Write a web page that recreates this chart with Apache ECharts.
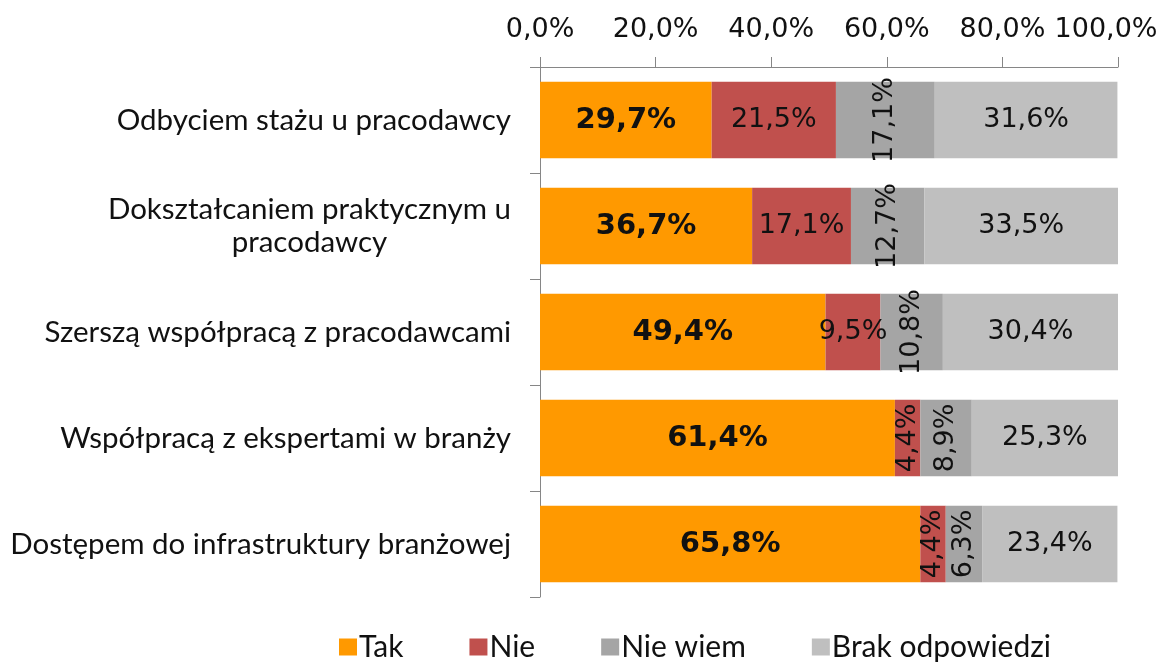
<!DOCTYPE html>
<html lang="pl">
<head>
<meta charset="UTF-8">
<title>Wykres</title>
<script src="https://cdn.jsdelivr.net/npm/echarts@6/dist/echarts.min.js"></script>
<style>
  html, body { margin: 0; padding: 0; background: #fff; }
  #main { width: 1171px; height: 666px; }
</style>
</head>
<body>
<div id="main"></div>
<script>
var categories = [
  'Odbyciem stażu u pracodawcy',
  'Dokształcaniem praktycznym u\npracodawcy',
  'Szerszą współpracą z pracodawcami',
  'Współpracą z ekspertami w branży',
  'Dostępem do infrastruktury branżowej'
];
var seriesNames = ['Tak', 'Nie', 'Nie wiem', 'Brak odpowiedzi'];
var tak = [29.7, 36.7, 49.4, 61.4, 65.8];
var nie = [21.5, 17.1, 9.5, 4.4, 4.4];
var nieWiem = [17.1, 12.7, 10.8, 8.9, 6.3];
var brak = [31.6, 33.5, 30.4, 25.3, 23.4];
// which Nie labels are drawn vertically (too narrow for horizontal text)
var nieRotated = [false, false, false, true, true];

var colors = ['#FF9900', '#C0504D', '#A5A5A5', '#BFBFBF'];

function pct(v) {
  return v.toFixed(1).replace('.', ',') + '%';
}

var chart = echarts.init(document.getElementById('main'));

var labelBase = {
  show: true,
  position: 'inside',
  fontFamily: 'DejaVu Sans',
  fontSize: 27,
  color: '#111',
  formatter: function (p) { return pct(p.value); }
};

function mkSeries(name, data, idx, extra) {
  return Object.assign({
    name: name,
    type: 'bar',
    stack: 'total',
    barCategoryGap: '28%',
    itemStyle: { color: colors[idx] },
    label: labelBase,
    data: data
  }, extra || {});
}

var option = {
  animation: false,
  grid: { left: 540, right: 53, top: 67, bottom: 69 },
  xAxis: {
    type: 'value',
    position: 'top',
    min: 0,
    max: 100,
    interval: 20,
    axisLine: { show: true, lineStyle: { color: '#868686', width: 1 } },
    axisTick: { show: true, length: 10, lineStyle: { color: '#868686' } },
    splitLine: { show: false },
    axisLabel: {
      margin: 24,
      fontFamily: 'DejaVu Sans',
      fontSize: 27,
      color: '#111',
      formatter: function (v) {
        // the last label sits a bit to the left, as in the original
        return v === 100 ? '{r|' + pct(v) + '}' : pct(v);
      },
      rich: {
        r: { fontFamily: 'DejaVu Sans', fontSize: 27, color: '#111', padding: [0, 24, 0, 0] }
      }
    }
  },
  yAxis: {
    type: 'category',
    inverse: true,
    data: categories,
    axisLine: { show: true, lineStyle: { color: '#868686', width: 1 } },
    axisTick: { show: true, length: 10, lineStyle: { color: '#868686' } },
    axisLabel: {
      margin: 29,
      color: '#111',
      fontFamily: 'Lato',
      fontSize: 29.5,
      formatter: function (v) { return '{c|' + v + '}'; },
      rich: {
        c: { align: 'center', fontFamily: 'Lato', fontSize: 29.5, color: '#111', lineHeight: 33 }
      }
    }
  },
  legend: {
    top: 627,
    left: 334,
    itemWidth: 18,
    itemHeight: 17,
    itemGap: 66,
    icon: 'rect',
    data: seriesNames,
    textStyle: { fontFamily: 'Lato', fontSize: 30, color: '#111', padding: [0, 0, 0, -3] }
  },
  series: [
    mkSeries(seriesNames[0], tak, 0, {
      label: Object.assign({}, labelBase, { fontWeight: 'bold', fontSize: 29 })
    }),
    mkSeries(seriesNames[1], nie.map(function (v, i) {
      return nieRotated[i] ? { value: v, label: { rotate: 90 } } : v;
    }), 1),
    mkSeries(seriesNames[2], nieWiem, 2, {
      label: Object.assign({}, labelBase, { rotate: 90 })
    }),
    mkSeries(seriesNames[3], brak, 3)
  ]
};

chart.setOption(option);
</script>
</body>
</html>
